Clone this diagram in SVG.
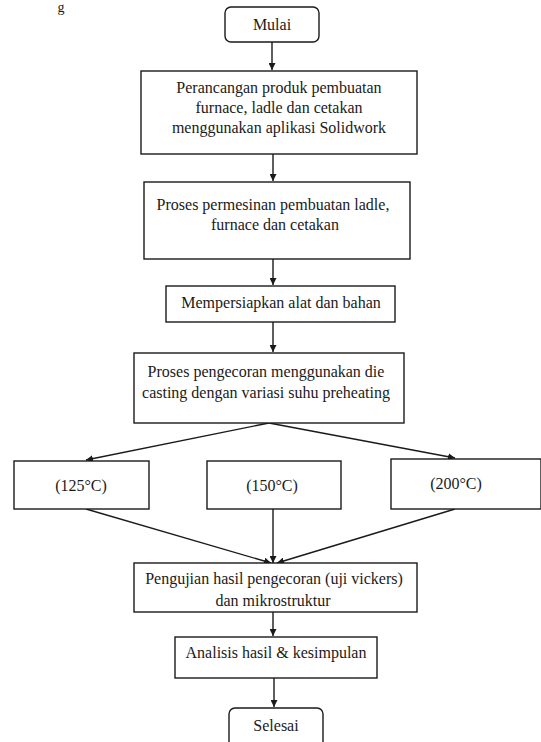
<svg xmlns="http://www.w3.org/2000/svg" width="541" height="742" viewBox="0 0 541 742">
<style>
.box{fill:#fff;stroke:#1a1a1a;stroke-width:1.4}
.t{font-family:"Liberation Serif","Times New Roman",serif;font-size:16px;fill:#1a1a1a;text-anchor:middle}
.c{fill:none;stroke:#1a1a1a;stroke-width:1.4;marker-end:url(#ah)}
</style>
<defs>
<marker id="ah" viewBox="0 0 10 10" refX="10" refY="5" markerWidth="7" markerHeight="7" markerUnits="userSpaceOnUse" orient="auto">
<path d="M0,0 L10,5 L0,10 z" fill="#1a1a1a"/>
</marker>
</defs>
<rect width="541" height="742" fill="#fff"/>
<text x="61" y="12" class="t" style="font-size:14px">g</text>
<g id="connectors">
<line class="c" x1="272" y1="42" x2="272" y2="70"/>
<line class="c" x1="273" y1="154" x2="273" y2="181"/>
<line class="c" x1="273" y1="259" x2="273" y2="285"/>
<line class="c" x1="273" y1="322" x2="273" y2="352"/>
<line class="c" x1="269" y1="423" x2="86" y2="460"/>
<line class="c" x1="269" y1="423" x2="455" y2="458"/>
<line class="c" x1="86" y1="509" x2="271" y2="563"/>
<line class="c" x1="273" y1="509" x2="273" y2="563"/>
<line class="c" x1="455" y1="509" x2="277" y2="563"/>
<line class="c" x1="273" y1="612" x2="273" y2="636"/>
<line class="c" x1="274" y1="678" x2="274" y2="707"/>
</g>
<g id="mulai">
<rect class="box" x="225" y="7" width="94" height="35" rx="6"/>
<text class="t" x="272" y="30">Mulai</text>
</g>
<g id="perancangan">
<rect class="box" x="141" y="71" width="276" height="83"/>
<text class="t" x="279" y="93">Perancangan produk pembuatan</text>
<text class="t" x="279" y="113">furnace, ladle dan cetakan</text>
<text class="t" x="279" y="133">menggunakan aplikasi Solidwork</text>
</g>
<g id="permesinan">
<rect class="box" x="144" y="182" width="266" height="77"/>
<text class="t" x="273" y="210">Proses permesinan pembuatan ladle,</text>
<text class="t" x="275" y="230">furnace dan cetakan</text>
</g>
<g id="persiapan">
<rect class="box" x="166" y="286" width="229" height="36"/>
<text class="t" x="281" y="308">Mempersiapkan alat dan bahan</text>
</g>
<g id="pengecoran">
<rect class="box" x="134" y="353" width="270" height="70"/>
<text class="t" x="266" y="377">Proses pengecoran menggunakan die</text>
<text class="t" x="266" y="398">casting dengan variasi suhu preheating</text>
</g>
<g id="t125">
<rect class="box" x="14" y="461" width="135" height="48"/>
<text class="t" x="81" y="491">(125°C)</text>
</g>
<g id="t150">
<rect class="box" x="207" y="461" width="134" height="48"/>
<text class="t" x="272" y="491">(150°C)</text>
</g>
<g id="t200">
<rect class="box" x="391" y="459" width="150" height="50"/>
<text class="t" x="456" y="489">(200°C)</text>
</g>
<g id="pengujian">
<rect class="box" x="134" y="563" width="283" height="49"/>
<text class="t" x="274" y="584">Pengujian hasil pengecoran (uji vickers)</text>
<text class="t" x="273" y="606">dan mikrostruktur</text>
</g>
<g id="analisis">
<rect class="box" x="175" y="637" width="202" height="41"/>
<text class="t" x="276" y="658">Analisis hasil &amp; kesimpulan</text>
</g>
<g id="selesai">
<rect class="box" x="229" y="708" width="94" height="40" rx="6"/>
<text class="t" x="276" y="731">Selesai</text>
</g>
</svg>
